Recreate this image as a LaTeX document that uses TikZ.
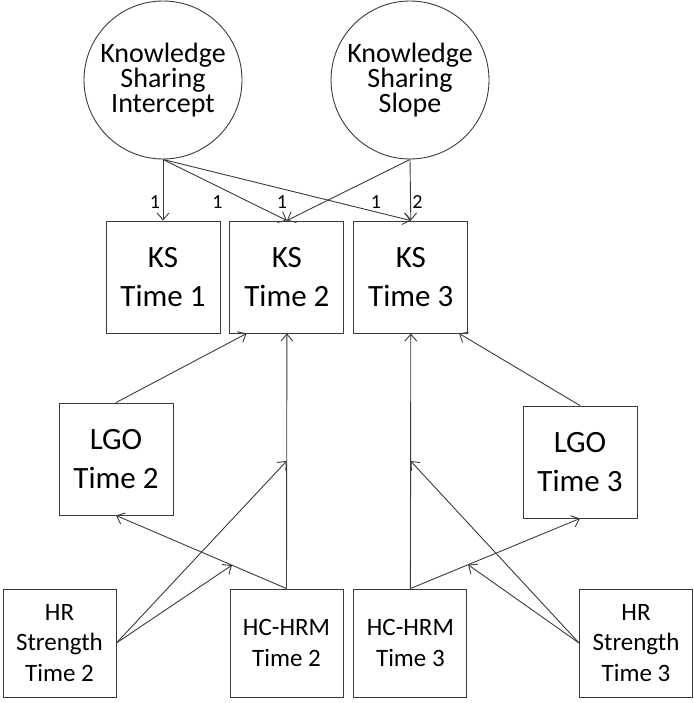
\documentclass[tikz,border=0pt]{standalone}
\usepackage{fontspec}
\setmainfont{Carlito}
\usetikzlibrary{positioning,calc,arrows.meta}
\definecolor{mygray}{HTML}{3A3A3A}
\newcommand{\bigtext}{\fontsize{31}{39}\selectfont}
\newcommand{\midtext}{\fontsize{25}{30.5}\selectfont}
\newcommand{\circtext}{\fontsize{28}{25}\selectfont}

\begin{document}
\begin{tikzpicture}[x=1pt,y=-1pt,
edge/.style={-{Straight Barb[length=7pt,width=12pt]},draw=mygray,line width=0.9pt},
latent/.style={circle,draw=mygray,line width=0.9pt,minimum size=158pt,inner sep=0pt,align=center,font=\circtext},
obsbox/.style={rectangle,draw=mygray,line width=0.9pt,minimum width=114pt,minimum height=112pt,inner sep=0pt,align=center,font=\bigtext},
smallbox/.style={rectangle,draw=mygray,line width=0.9pt,minimum width=113pt,minimum height=108pt,inner sep=0pt,align=center,font=\midtext},
lab/.style={font=\fontsize{20}{22}\selectfont,inner sep=0pt}]
\useasboundingbox (0,0) rectangle (693,703);

% latent factors
\node[latent] (icpt) at (163,80) {Knowledge\\Sharing\\Intercept};
\node[latent] (slp) at (410,80) {Knowledge\\Sharing\\Slope};

% knowledge sharing
\node[obsbox] (ks1) at (163,277) {KS\\Time 1};
\node[obsbox,right=9pt of ks1] (ks2) {KS\\Time 2};
\node[obsbox,right=9pt of ks2] (ks3) {KS\\Time 3};

% learning goal orientation
\node[obsbox] (lgo2) at (116,459) {LGO\\Time 2};
\node[obsbox] (lgo3) at (580,462) {LGO\\Time 3};

% predictors
\node[smallbox] (hr2) at (59.5,643) {HR\\Strength\\Time 2};
\node[smallbox] (hc2) at (286.5,643) {HC-HRM\\Time 2};
\node[smallbox,right=10pt of hc2] (hc3) {HC-HRM\\Time 3};
\node[smallbox] (hr3) at (636,643) {HR\\Strength\\Time 3};

% points on paths
\coordinate (m2) at ($(hc2.north)!0.5!(ks2.south)$);
\coordinate (n2) at ($(hc2.north)!0.32!(lgo2.south)$);
\coordinate (m3) at ($(hc3.north)!0.5!(ks3.south)$);
\coordinate (n3) at ($(hc3.north)!0.34!(lgo3.south)$);

% loadings
\draw[edge] (icpt.south) -- (ks1.north) node[lab,pos=0.69,xshift=-8pt] {1};
\draw[edge] (icpt.south) -- (ks2.north) node[lab,pos=0.69,xshift=-31pt] {1};
\draw[edge] (icpt.south) -- (ks3.north) node[lab,pos=0.69,xshift=42pt] {1};
\draw[edge] (slp.south) -- (ks2.north) node[lab,pos=0.69,xshift=-43pt] {1};
\draw[edge] (slp.south) -- (ks3.north) node[lab,pos=0.69,xshift=7pt] {2};

% paths
\draw[edge] (lgo2.north) -- ($(ks2.south west)!0.15!(ks2.south east)$);
\draw[edge] (hc2.north) -- (ks2.south);
\draw[edge] (hc2.north) -- (lgo2.south);
\draw[edge] (hr2.east) -- (m2);
\draw[edge] (hr2.east) -- (n2);
\draw[edge] (lgo3.north) -- ($(ks3.south west)!0.92!(ks3.south east)$);
\draw[edge] (hc3.north) -- (ks3.south);
\draw[edge] (hc3.north) -- (lgo3.south);
\draw[edge] (hr3.west) -- (m3);
\draw[edge] (hr3.west) -- (n3);

\end{tikzpicture}
\end{document}
